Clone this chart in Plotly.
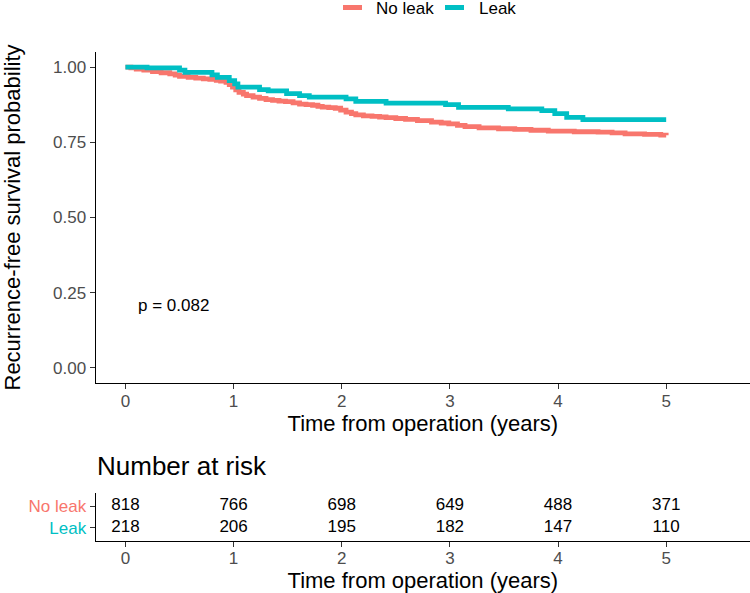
import plotly.graph_objects as go

# ---- Kaplan-Meier step data ----
noleak_time = [0, 0.05, 0.10, 0.17, 0.25, 0.33, 0.41, 0.46, 0.50, 0.58, 0.65, 0.72, 0.78, 0.84, 0.88,
               0.93, 0.96, 0.99, 1.02, 1.05, 1.09, 1.12, 1.18, 1.24, 1.30, 1.36, 1.42, 1.48, 1.55,
               1.61, 1.67, 1.73, 1.78, 1.82, 1.88, 1.94, 1.99, 2.04, 2.09, 2.13, 2.20, 2.28, 2.35,
               2.41, 2.50, 2.59, 2.70, 2.83, 2.92, 2.99, 3.07, 3.14, 3.27, 3.45, 3.60, 3.75, 3.91,
               4.15, 4.37, 4.50, 4.62, 4.80, 4.95, 5.00]
noleak_surv = [1.0, 0.997, 0.993, 0.990, 0.985, 0.981, 0.977, 0.973, 0.969, 0.966, 0.963, 0.961, 0.959,
               0.956, 0.953, 0.949, 0.942, 0.933, 0.924, 0.916, 0.910, 0.905, 0.900, 0.896, 0.892,
               0.889, 0.887, 0.885, 0.881, 0.877, 0.875, 0.873, 0.869, 0.867, 0.865, 0.863, 0.857,
               0.850, 0.845, 0.841, 0.838, 0.836, 0.834, 0.832, 0.829, 0.826, 0.822, 0.817, 0.814,
               0.811, 0.806, 0.802, 0.798, 0.795, 0.793, 0.790, 0.787, 0.785, 0.784, 0.781, 0.778,
               0.776, 0.774, 0.773]

leak_time = [0, 0.20, 0.50, 0.55, 0.80, 0.85, 0.96, 1.01, 1.04, 1.24, 1.32, 1.49, 1.61, 1.70, 2.04,
             2.13, 2.41, 2.96, 3.08, 3.54, 3.85, 3.97, 4.08, 4.23, 5.00]
leak_surv = [1.0, 0.997, 0.990, 0.982, 0.974, 0.966, 0.955, 0.944, 0.933, 0.925, 0.921, 0.912, 0.905,
             0.900, 0.894, 0.886, 0.880, 0.875, 0.866, 0.861, 0.855, 0.845, 0.833, 0.825, 0.825]

# ---- Number at risk table ----
risk_times = [0, 1, 2, 3, 4, 5]
risk_noleak = [818, 766, 698, 649, 488, 371]
risk_leak = [218, 206, 195, 182, 147, 110]

groups = ["No leak", "Leak"]
colors = ["#F8766D", "#00BFC4"]

y_ticks = [0, 0.25, 0.5, 0.75, 1.0]
y_ticklabels = ["0.00", "0.25", "0.50", "0.75", "1.00"]
x_ticks = [0, 1, 2, 3, 4, 5]
pval_text = "p = 0.082"

FONT = "Liberation Sans, Arial, Helvetica, sans-serif"
W, H = 750, 593

fig = go.Figure()

fig.add_trace(go.Scatter(x=noleak_time, y=noleak_surv, mode="lines", line_shape="hv",
                         line=dict(color=colors[0], width=4.8), name=groups[0],
                         showlegend=False, xaxis="x", yaxis="y"))
fig.add_trace(go.Scatter(x=leak_time, y=leak_surv, mode="lines", line_shape="hv",
                         line=dict(color=colors[1], width=4.8), name=groups[1],
                         showlegend=False, xaxis="x", yaxis="y"))

# risk table text
fig.add_trace(go.Scatter(x=risk_times, y=[1] * len(risk_times), mode="text",
                         text=[str(v) for v in risk_noleak], textfont=dict(size=17, color="black", family=FONT),
                         showlegend=False, xaxis="x2", yaxis="y2", hoverinfo="skip"))
fig.add_trace(go.Scatter(x=risk_times, y=[0] * len(risk_times), mode="text",
                         text=[str(v) for v in risk_leak], textfont=dict(size=17, color="black", family=FONT),
                         showlegend=False, xaxis="x2", yaxis="y2", hoverinfo="skip"))

xdom = [95.7 / W, 1.0]
top_dom = [1 - 383 / H, 1 - 52 / H]
risk_dom = [1 - 540.7 / H, 1 - 493 / H]
xrange = [-0.275, 5.775]

axis_common = dict(showline=True, linecolor="black", linewidth=1.2, mirror=False,
                   ticks="outside", ticklen=5, tickwidth=1.2, tickcolor="#333333",
                   showgrid=False, zeroline=False, automargin=False,
                   tickfont=dict(size=17, color="#4D4D4D", family=FONT))

# legend drawn at top centre (swatch + label for each group)
legend_swatch_x = [[343, 362], [445, 464]]
legend_text_x = [374, 477]
shapes = []
annotations = []
for g, c, sx, tx in zip(groups, colors, legend_swatch_x, legend_text_x):
    shapes.append(dict(type="line", xref="paper", yref="paper", x0=sx[0] / W, x1=sx[1] / W,
                       y0=1 - 7.5 / H, y1=1 - 7.5 / H, line=dict(color=c, width=5)))
    annotations.append(dict(text=g, x=tx / W, y=1 - 9 / H, xref="paper", yref="paper",
                            xanchor="left", yanchor="middle", showarrow=False,
                            font=dict(size=17, color="black", family=FONT)))

annotations += [
    dict(text=pval_text, x=0.095, y=0.208, xref="x", yref="y", xanchor="left", yanchor="middle",
         showarrow=False, font=dict(size=17, color="black", family=FONT)),
    dict(text="Number at risk", x=95 / W, y=1 - 466 / H, xref="paper", yref="paper",
         xanchor="left", yanchor="middle", showarrow=False,
         font=dict(size=26, color="black", family=FONT)),
]

fig.update_layout(
    width=W, height=H,
    margin=dict(l=0, r=0, t=0, b=0),
    paper_bgcolor="white", plot_bgcolor="white",
    font=dict(family=FONT, color="black"),
    showlegend=False,
    xaxis=dict(domain=xdom, range=xrange, tickvals=x_ticks, anchor="y", ticklabelstandoff=-3,
               title=dict(text="Time from operation (years)", font=dict(size=22, color="black"), standoff=6),
               **axis_common),
    yaxis=dict(domain=top_dom, range=[-0.05, 1.05], tickvals=y_ticks, ticktext=y_ticklabels, anchor="x",
               title=dict(text="Recurrence-free survival probability", font=dict(size=22, color="black"),
                          standoff=26),
               **axis_common),
    xaxis2=dict(domain=xdom, range=xrange, tickvals=x_ticks, anchor="y2", ticklabelstandoff=-3,
                title=dict(text="Time from operation (years)", font=dict(size=22, color="black"), standoff=3),
                **axis_common),
    yaxis2=dict(domain=risk_dom, range=[-0.6, 1.6], tickvals=[1, 0],
                ticktext=['<span style="color:%s">%s</span>' % (colors[0], groups[0]),
                          '<span style="color:%s">%s</span>' % (colors[1], groups[1])],
                anchor="x2", **axis_common),
    shapes=shapes,
    annotations=annotations,
)

fig.write_html("out.html", config={"displayModeBar": False},
               post_script="document.body.style.margin='0';document.body.style.overflow='hidden';")
